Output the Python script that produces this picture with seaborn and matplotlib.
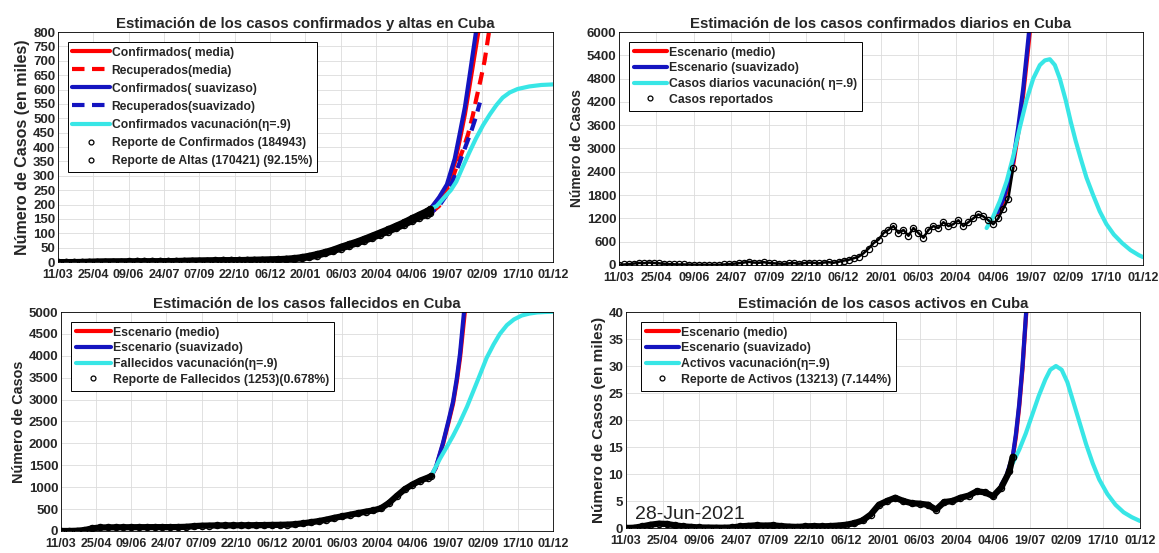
import pandas as pd
import seaborn as sns
import matplotlib.pyplot as plt
from matplotlib.lines import Line2D

START = pd.Timestamp('2020-03-11')

# --- datos reportados (días desde 11/03/2020) ---
rep_days = [0, 10, 20, 30, 40, 50, 60, 70, 80, 90, 100, 110, 120, 130, 140, 150,
            160, 170, 180, 190, 200, 210, 220, 230, 240, 250, 260, 270, 280, 290,
            300, 310, 320, 330, 340, 350, 360, 370, 380, 390, 400, 410, 420, 430,
            440, 450, 460, 470, 474]
confirmados_rep = [0, 0.02, 0.1, 0.5, 1.2, 1.6, 1.9, 2.0, 2.1, 2.2, 2.3, 2.4, 2.5, 2.8,
                   3.2, 3.8, 4.3, 4.9, 5.2, 5.6, 5.9, 6.3, 6.7, 7.0, 7.4, 7.8, 8.3, 9.0,
                   10.0, 11.5, 13.5, 17, 22, 28, 35, 43, 53, 62, 71, 81, 92, 103, 114,
                   126, 138, 152, 165, 178, 185]
altas_rep = [0, 0, 0.01, 0.05, 0.4, 1.0, 1.5, 1.8, 1.95, 2.1, 2.2, 2.35, 2.45, 2.6, 2.9,
             3.4, 3.8, 4.4, 4.7, 5.2, 5.6, 6.1, 6.4, 6.7, 7.1, 7.5, 7.9, 8.4, 9.1, 10.1,
             11.2, 13, 17, 22.5, 30, 38, 47, 56, 65, 74, 84, 95, 106, 117, 129, 142,
             155, 165, 170]
fallecidos_rep = [0, 0, 5, 20, 60, 80, 82, 84, 85, 86, 87, 87, 88, 88, 88, 90, 95, 110,
                  120, 124, 127, 128, 129, 130, 131, 133, 135, 138, 140, 145, 155, 175,
                  200, 225, 260, 300, 335, 370, 405, 440, 470, 520, 640, 800, 950, 1060,
                  1150, 1220, 1253]
activos_rep = [0, 0.05, 0.3, 0.6, 0.8, 0.75, 0.5, 0.3, 0.2, 0.1, 0.08, 0.06, 0.05, 0.1,
               0.3, 0.4, 0.5, 0.45, 0.5, 0.35, 0.25, 0.2, 0.3, 0.35, 0.3, 0.35, 0.45, 0.6,
               0.9, 1.4, 2.5, 4.3, 5.0, 5.6, 5.0, 4.6, 4.5, 4.3, 3.4, 4.8, 5.0, 5.6, 6.0,
               6.8, 6.6, 5.9, 7.5, 10.5, 13.2]

diarios_days = list(range(0, 475, 6))
diarios_rep = [3, 10, 20, 35, 50, 45, 60, 50, 40, 30,
               20, 15, 10, 12, 8, 5, 3, 5, 2, 4,
               3, 10, 20, 30, 45, 60, 80, 60, 55, 70,
               50, 40, 35, 25, 40, 50, 30, 45, 60, 55,
               40, 60, 70, 55, 80, 110, 130, 170, 210, 300,
               420, 560, 650, 820, 900, 1000, 820, 900, 750, 950,
               820, 700, 900, 1000, 950, 1100, 1000, 1050, 1150, 1000,
               1100, 1200, 1300, 1250, 1150, 1050, 1200, 1450, 1700, 2500]

# --- escenarios ---
conf_media_days = [474, 485, 495, 505, 511, 518, 524, 535, 545]
conf_media = [185, 222, 262, 345, 420, 515, 615, 800, 990]
conf_suav_days = [474, 485, 495, 505, 511, 518, 524, 532, 540]
conf_suav = [185, 225, 270, 360, 442, 540, 650, 800, 960]
rec_media_days = [474, 485, 495, 502, 509, 516, 522, 528, 533, 538, 543, 548, 552]
rec_media = [170, 195, 240, 290, 345, 395, 445, 510, 575, 635, 700, 790, 860]
rec_suav_days = [474, 485, 495, 505, 515, 526, 532, 537]
rec_suav = [170, 195, 235, 300, 375, 455, 505, 555]
conf_vac_days = [474, 482, 490, 500, 507, 515, 524, 532, 541, 550, 558, 566, 575, 585,
                 600, 615, 630]
conf_vac = [185, 195, 220, 250, 280, 330, 384, 430, 476, 515, 546, 572, 590, 602, 611,
            616, 618]

diar_media_days = [455, 462, 468, 474, 480, 486, 492, 498]
diar_media = [1300, 1620, 2050, 2600, 3400, 4400, 5600, 6900]
diar_suav_days = [455, 462, 468, 474, 480, 486, 492, 497]
diar_suav = [1350, 1700, 2150, 2700, 3550, 4550, 5800, 6900]
diar_vac_days = [442, 450, 458, 466, 474, 482, 490, 498, 506, 512, 518, 524, 530, 537,
                 543, 549, 555, 562, 570, 578, 586, 595, 605, 615, 625, 630]
diar_vac = [950, 1250, 1650, 2150, 2800, 3550, 4250, 4800, 5150, 5270, 5300, 5150, 4800,
            4250, 3700, 3200, 2750, 2250, 1800, 1380, 1050, 780, 560, 380, 250, 200]

fall_media_days = [474, 480, 489, 496, 502, 507, 511, 516, 521]
fall_media = [1253, 1440, 1970, 2460, 2900, 3430, 3950, 4800, 5700]
fall_suav_days = [474, 480, 489, 496, 502, 507, 511, 515, 520]
fall_suav = [1253, 1450, 2000, 2500, 2950, 3500, 4050, 4800, 5700]
fall_vac_days = [474, 485, 495, 502, 510, 520, 530, 537, 545, 554, 562, 571, 580, 590,
                 600, 610, 620, 630]
fall_vac = [1253, 1640, 1950, 2170, 2450, 2840, 3280, 3590, 3950, 4260, 4500, 4700, 4830,
            4920, 4965, 4990, 5000, 5005]

act_days = [460, 466, 470, 474, 478, 482, 486, 490, 494]
act_media = [7.8, 9.3, 11.2, 13.0, 17.0, 22.5, 29.5, 38.5, 47]
act_suav = [8, 9.5, 11.5, 13.2, 17.5, 23, 30, 39, 48]
act_vac_days = [474, 482, 490, 498, 506, 514, 520, 527, 534, 541, 548, 556, 564, 572,
                580, 590, 600, 610, 620, 630]
act_vac = [12, 14.5, 17.5, 21, 24.5, 27.5, 29.3, 30, 29.3, 27, 23.5, 19.5, 15.5, 12, 9,
           6.3, 4.3, 2.9, 2.0, 1.3]

tick_days = [0, 45, 90, 135, 180, 225, 270, 315, 360, 405, 450, 495, 540, 585, 630]

RED = '#ff0000'
BLUE = '#1414c0'
CYAN = '#38e6e6'
ETA = '\u03b7'
DASH = (0, (3, 1.8))


def to_dates(days):
    return START + pd.to_timedelta(days, unit='D')


def line(ax, days, vals, color, lw=3.0, ls='-', **kw):
    df = pd.DataFrame({'fecha': to_dates(days), 'valor': vals})
    sns.lineplot(data=df, x='fecha', y='valor', ax=ax, color=color, linewidth=lw,
                 linestyle=ls, legend=False, **kw)


def reported(ax, days, vals, lw=4.5, ms=4.5):
    line(ax, days, vals, 'black', lw=lw, marker='o', markersize=ms,
         markerfacecolor='none', markeredgecolor='black', markeredgewidth=0.9)


def style_axes(ax, ymax, ystep, title, ylabel, ylab_fs):
    ax.set_xlim(to_dates([0])[0], to_dates([630])[0])
    ticks = to_dates(tick_days)
    ax.set_xticks(ticks)
    ax.set_xticklabels([t.strftime('%d/%m') for t in ticks])
    ax.set_ylim(0, ymax)
    ax.set_yticks(list(range(0, ymax + 1, ystep)))
    ax.grid(True, color='#dcdcdc', linewidth=0.6)
    ax.set_axisbelow(True)
    ax.tick_params(direction='in', length=3, width=0.6)
    ax.tick_params(axis='x', labelsize=9, pad=4.8)
    ax.tick_params(axis='y', labelsize=9.5, pad=2)
    for s in ax.spines.values():
        s.set_visible(True)
        s.set_color('black')
        s.set_linewidth(0.6)
    ax.set_title(title, fontsize=10.7, fontweight='bold', pad=3)
    ax.set_ylabel(ylabel, fontsize=ylab_fs, fontweight='bold', labelpad=2)
    ax.set_xlabel('')


def legend(ax, entries, fs, hl, spacing, anchor=(0, 1)):
    handles = []
    labels = []
    for lab, kind in entries:
        if kind == 'red':
            h = Line2D([], [], color=RED, lw=3)
        elif kind == 'red--':
            h = Line2D([], [], color=RED, lw=3, ls=DASH)
        elif kind == 'blue':
            h = Line2D([], [], color=BLUE, lw=3)
        elif kind == 'blue--':
            h = Line2D([], [], color=BLUE, lw=3, ls=DASH)
        elif kind == 'cyan':
            h = Line2D([], [], color=CYAN, lw=3)
        else:
            h = Line2D([], [], ls='none', marker='o', markersize=3.5,
                       markerfacecolor='none', markeredgecolor='black', markeredgewidth=0.9)
        handles.append(h)
        labels.append(lab)
    leg = ax.legend(handles, labels, loc='upper left', bbox_to_anchor=anchor, fontsize=fs,
                    handlelength=hl, handletextpad=0.15, labelspacing=spacing,
                    borderaxespad=0.8, borderpad=0.4, fancybox=False, framealpha=1,
                    edgecolor='black')
    leg.get_frame().set_linewidth(0.7)


sns.set_theme(style='white')
plt.rcParams['font.family'] = ['Liberation Sans', 'DejaVu Sans']
plt.rcParams['font.weight'] = 'bold'

fig = plt.figure(figsize=(11.59, 5.53), dpi=100)
ax1 = fig.add_axes([0.0500, 0.526, 0.4271, 0.416])
ax2 = fig.add_axes([0.5341, 0.521, 0.4521, 0.421])
ax3 = fig.add_axes([0.0526, 0.0398, 0.4245, 0.396])
ax4 = fig.add_axes([0.5401, 0.0452, 0.4435, 0.3906])

# --- confirmados y altas ---
line(ax1, conf_media_days, conf_media, RED)
line(ax1, rec_media_days, rec_media, RED, ls=DASH)
line(ax1, conf_suav_days, conf_suav, BLUE)
line(ax1, rec_suav_days, rec_suav, BLUE, ls=(1.5, (3, 1.8)))
line(ax1, conf_vac_days, conf_vac, CYAN)
reported(ax1, rep_days, altas_rep)
reported(ax1, rep_days, confirmados_rep)
style_axes(ax1, 800, 50, 'Estimación de los casos confirmados y altas en Cuba',
           'Número de Casos (en miles)', 11.5)
legend(ax1, [('Confirmados( media)', 'red'), ('Recuperados(media)', 'red--'),
             ('Confirmados( suavizaso)', 'blue'), ('Recuperados(suavizado)', 'blue--'),
             (f'Confirmados vacunación({ETA}=.9)', 'cyan'),
             ('Reporte de Confirmados (184943)', 'o'),
             ('Reporte de Altas (170421) (92.15%)', 'o')], 8.7, 3.1, 0.5)

# --- diarios ---
line(ax2, diar_media_days, diar_media, RED)
line(ax2, diar_suav_days, diar_suav, BLUE)
line(ax2, diar_vac_days, diar_vac, CYAN)
reported(ax2, diarios_days, diarios_rep, lw=1.8, ms=4.5)
style_axes(ax2, 6000, 600, 'Estimación de los casos confirmados diarios en Cuba',
           'Número de Casos', 10)
legend(ax2, [('Escenario (medio)', 'red'), ('Escenario (suavizado)', 'blue'),
             (f'Casos diarios vacunación( {ETA}=.9)', 'cyan'),
             ('Casos reportados', 'o')], 8.8, 2.7, 0.3)

# --- fallecidos ---
line(ax3, fall_media_days, fall_media, RED)
line(ax3, fall_suav_days, fall_suav, BLUE)
line(ax3, fall_vac_days, fall_vac, CYAN)
reported(ax3, rep_days, fallecidos_rep)
style_axes(ax3, 5000, 500, 'Estimación de los casos fallecidos en Cuba', 'Número de Casos',
           10.4)
legend(ax3, [('Escenario (medio)', 'red'), ('Escenario (suavizado)', 'blue'),
             (f'Fallecidos vacunación({ETA}=.9)', 'cyan'),
             ('Reporte de Fallecidos (1253)(0.678%)', 'o')], 8.8, 2.9, 0.3)

# --- activos ---
line(ax4, act_days, act_media, RED)
line(ax4, act_days, act_suav, BLUE)
line(ax4, act_vac_days, act_vac, CYAN)
reported(ax4, rep_days, activos_rep)
style_axes(ax4, 40, 5, 'Estimación de los casos activos en Cuba',
           'Número de Casos (en miles)', 11)
legend(ax4, [('Escenario (medio)', 'red'), ('Escenario (suavizado)', 'blue'),
             (f'Activos vacunación({ETA}=.9)', 'cyan'),
             ('Reporte de Activos (13213) (7.144%)', 'o')], 8.8, 2.7, 0.3,
       anchor=(0.01, 1))
ax4.text(0.018, 0.022, '28-Jun-2021', transform=ax4.transAxes, fontsize=14,
         fontweight='normal', color='#222222', ha='left', va='bottom', zorder=5)

fig.savefig('out.png', dpi=100)
plt.close(fig)
